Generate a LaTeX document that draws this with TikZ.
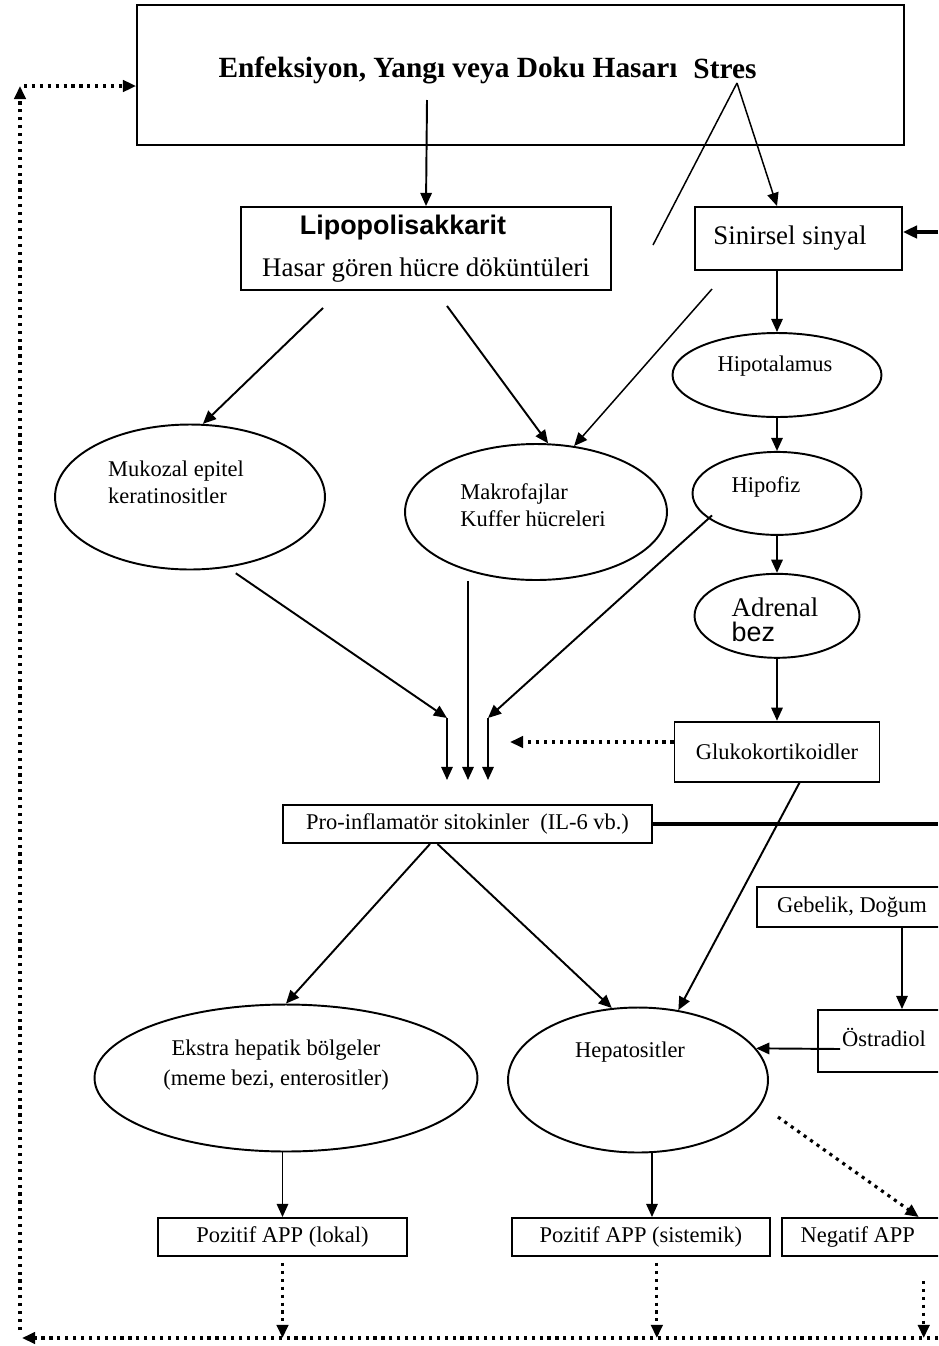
\documentclass[tikz,border=0pt]{standalone}
\usepackage{fontspec}
\setmainfont{Liberation Serif}
\setsansfont{Liberation Sans}
\usetikzlibrary{shapes.geometric, arrows.meta, positioning}
\newcommand{\fsmall}{\fontsize{12.8pt}{15.3pt}\selectfont}
\newcommand{\fbig}{\fontsize{15.3pt}{18pt}\selectfont}
\newcommand{\ftop}{\fontsize{16.7pt}{20pt}\selectfont\bfseries}
\tikzset{
    box/.style={rectangle, draw, line width=1.1pt, inner sep=0pt, font=\fsmall},
    oval/.style={ellipse, draw, line width=1.1pt, inner sep=0pt},
    txt/.style={inner sep=0pt, font=\fsmall, align=left},
    arrow/.style={-{Triangle[length=7.5pt, width=6.5pt]}, line width=1.1pt},
    thinline/.style={line width=0.85pt},
    thickarrow/.style={-{Triangle[length=8pt, width=7pt]}, line width=2pt},
    dotarrow/.style={-{Triangle[length=7.5pt, width=6.5pt]}, line width=1.8pt, dash pattern=on 1.8pt off 2.7pt},
}
\begin{document}
\begin{tikzpicture}[x=0.02cm, y=-0.02cm]
    \clip (0,0) rectangle (938,1346);

    % Causes
    \node[box, minimum width=15.34cm, minimum height=2.8cm] (top) at (520.5,75) {};
    \node[txt, font=\ftop] (inf) at (448,70) {Enfeksiyon, Yangı veya Doku Hasarı};
    \node[txt, font=\ftop] (stres) at (725,69) {Stres};

    \node[box, minimum width=7.4cm, minimum height=1.66cm, align=center, font=\fbig] (lipo) at (426,248.5) {\textsf{\textbf{Lipopolisakkarit}}\hspace*{0.92cm}\\[6pt]Hasar gören hücre döküntüleri};
    \node[box, minimum width=4.14cm, minimum height=1.26cm, font=\fbig] (sinir) at (798.5,238.5) {Sinirsel sinyal\hspace*{0.34cm}};

    % Hormonal axis
    \node[oval, minimum width=4.18cm, minimum height=1.68cm] (hipot) at (777,375) {};
    \node[txt] (hipottxt) at ([xshift=-0.04cm, yshift=0.18cm]hipot) {Hipotalamus};
    \node[oval, minimum width=3.38cm, minimum height=1.66cm, below=0.66cm of hipot] (hipof) {};
    \node[txt] (hipoftxt) at ([xshift=-0.22cm, yshift=0.12cm]hipof) {Hipofiz};
    \node[oval, minimum width=3.3cm, minimum height=1.68cm, below=0.74cm of hipof] (adrenal) {};
    \node[txt, font=\fbig] (adrenaltxt) at ([xshift=-0.04cm, yshift=-0.08cm]adrenal) {Adrenal\\[-4pt]\sffamily bez};
    \node[box, minimum width=4.1cm, minimum height=1.2cm, below=1.24cm of adrenal] (gluko) {Glukokortikoidler};

    % Cells
    \node[oval, minimum width=5.4cm, minimum height=2.9cm] (muk) at (190,497) {};
    \node[txt] (muktxt) at (176,482) {Mukozal epitel\\keratinositler};
    \node[oval, minimum width=5.24cm, minimum height=2.72cm] (makro) at (536,512) {};
    \node[txt] (makrotxt) at (533,505) {Makrofajlar\\Kuffer hücreleri};

    \node[box, minimum width=7.38cm, minimum height=0.76cm] (cyto) at (467.5,824) {Pro-inflamatör sitokinler\ \ (IL-6 vb.)};

    \node[box, minimum width=3.8cm, minimum height=0.8cm] (gebelik) at (852,907) {Gebelik, Doğum};
    \node[box, minimum width=2.64cm, minimum height=1.24cm] (ostra) at (884,1041) {\raisebox{0.14cm}{Östradiol}};

    % Targets
    \node[oval, minimum width=7.66cm, minimum height=2.94cm] (ekstra) at (286,1078) {};
    \node[txt, align=center] (ekstratxt) at (276,1065) {Ekstra hepatik bölgeler\\[2pt](meme bezi, enterositler)};
    \node[oval, minimum width=5.2cm, minimum height=2.9cm] (hepa) at (638,1080) {};
    \node[txt] (hepatxt) at (630,1052) {Hepatositler};

    \node[box, minimum width=4.98cm, minimum height=0.76cm] (lokal) at (282.5,1237) {Pozitif APP (lokal)};
    \node[box, minimum width=5.16cm, minimum height=0.76cm, right=2.06cm of lokal] (sistem) {Pozitif APP (sistemik)};
    \node[box, minimum width=3.34cm, minimum height=0.76cm, right=0.2cm of sistem] (negatif) {Negatif APP\hspace*{0.3cm}};

    % free ends
    \coordinate (infout) at (427,100);
    \coordinate (sfork) at (737,83);
    \coordinate (sbreak) at (653,245);
    \coordinate (sresume) at (712,289);
    \coordinate (mukbend) at (447,718);
    \coordinate (hipbend) at (488,718);
    \coordinate (mukend) at (447,780);
    \coordinate (makend) at (468,780);
    \coordinate (hipend) at (488,780);
    \coordinate (glukoend) at (510,742);
    \coordinate (rightin) at (938,232);
    \coordinate (rightout) at (938,824);
    \coordinate (ostraout) at (840,1049);
    \coordinate (hepadot) at (778,1117);
    \coordinate (feedR) at (938,1338);
    \coordinate (feedL) at (22,1338);
    \coordinate (feedB) at (20,1330);
    \coordinate (feedT) at (20,86);
    \coordinate (feedC) at (24,86);

    % Connectors
    \draw[arrow] (infout) -- (lipo.north);
    \draw[thinline] (sfork) -- (sbreak);
    \draw[arrow, thinline] (sfork) -- ([xshift=-0.43cm]sinir.north);
    \draw[arrow, thinline] (sresume) -- (makro.60);
    \draw[thickarrow] (rightin) -- (rightin -| sinir.east);

    \draw[arrow] ([xshift=-2.06cm, yshift=-0.34cm]lipo.south) -- (muk.80);
    \draw[arrow] ([xshift=0.42cm, yshift=-0.3cm]lipo.south) -- (makro.80);

    \draw[arrow] (hipot.north |- sinir.south) -- (hipot.north);
    \draw[arrow] (hipot.south) -- (hipof.north);
    \draw[arrow] (hipof.south) -- (adrenal.north);
    \draw[arrow] (adrenal.south) -- (gluko.north);

    \draw[arrow, shorten <=0.2cm] (muk.-62) -- (mukbend);
    \draw[arrow] (mukbend) -- (mukend);
    \draw[arrow] (makend |- makro.south) -- (makend);
    \draw[arrow] ([xshift=-1.3cm, yshift=-0.44cm]hipof.center) -- (hipbend);
    \draw[arrow] (hipbend) -- (hipend);
    \draw[dotarrow] (glukoend -| gluko.west) -- (glukoend);
    \draw[arrow] ([xshift=0.45cm]gluko.south) -- (hepa.60);

    \draw[line width=1.9pt] (cyto.east) -- (rightout);
    \draw[arrow] ([xshift=-0.75cm]cyto.south) -- (ekstra.north);
    \draw[arrow] ([xshift=-0.6cm]cyto.south) -- (hepa.110);

    \draw[arrow] ([xshift=1cm]gebelik.south) -- ([xshift=1cm]gebelik.south |- ostra.north);
    \draw[arrow] (ostraout) -- (hepa.15);

    \draw[arrow] (lokal.north |- ekstra.south) -- (lokal.north);
    \draw[arrow] ([xshift=0.28cm]hepa.south) -- ([xshift=0.28cm]hepa.south |- sistem.north);
    \draw[dotarrow] (hepadot) -- ([xshift=1.07cm]negatif.north);

    \draw[dotarrow] ([yshift=-0.12cm]lokal.south) -- (lokal.south |- feedL);
    \draw[dotarrow] ([xshift=0.32cm, yshift=-0.12cm]sistem.south) -- ([xshift=0.32cm]sistem.south |- feedL);
    \draw[dotarrow] ([xshift=1.17cm, yshift=-0.48cm]negatif.south) -- ([xshift=1.17cm]negatif.south |- feedL);
    \draw[dotarrow] (feedR) -- (feedL);
    \draw[dotarrow] (feedB) -- (feedT);
    \draw[dotarrow] (feedC) -- (feedC -| top.west);
\end{tikzpicture}
\end{document}
